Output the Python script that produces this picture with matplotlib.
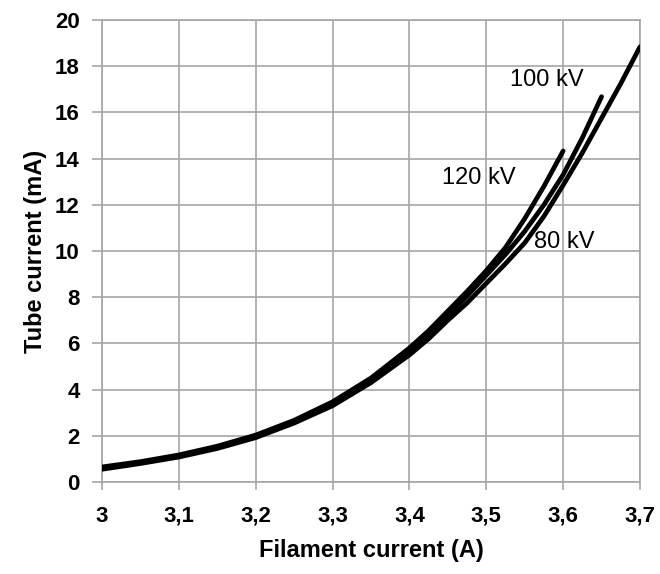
import matplotlib
matplotlib.use("Agg")
import matplotlib.pyplot as plt

plt.rcParams['font.family'] = ['Liberation Sans', 'DejaVu Sans']

# Filament current (A) and tube current (mA)
x_80 = [3.0, 3.05, 3.1, 3.15, 3.2, 3.25, 3.3, 3.35, 3.4, 3.425, 3.45, 3.475, 3.5,
        3.525, 3.55, 3.575, 3.6, 3.625, 3.65, 3.675, 3.7]
y_80 = [0.55, 0.8, 1.08, 1.45, 1.92, 2.55, 3.3, 4.3, 5.5, 6.2, 7.0, 7.75, 8.6,
        9.45, 10.35, 11.5, 12.85, 14.25, 15.75, 17.25, 18.84]

x_100 = [3.0, 3.05, 3.1, 3.15, 3.2, 3.25, 3.3, 3.35, 3.4, 3.425, 3.45, 3.475, 3.5,
         3.525, 3.55, 3.575, 3.6, 3.625, 3.65]
y_100 = [0.6, 0.83, 1.12, 1.5, 1.97, 2.6, 3.38, 4.4, 5.65, 6.4, 7.2, 8.05, 8.95,
         9.85, 10.85, 12.0, 13.3, 14.9, 16.68]

x_120 = [3.0, 3.05, 3.1, 3.15, 3.2, 3.25, 3.3, 3.35, 3.4, 3.425, 3.45, 3.475, 3.5,
         3.525, 3.55, 3.575, 3.6]
y_120 = [0.65, 0.88, 1.17, 1.55, 2.03, 2.67, 3.47, 4.5, 5.8, 6.55, 7.4, 8.25, 9.15,
         10.15, 11.4, 12.8, 14.33]

x_ticks = [3.0, 3.1, 3.2, 3.3, 3.4, 3.5, 3.6, 3.7]
x_tick_labels = ["3", "3,1", "3,2", "3,3", "3,4", "3,5", "3,6", "3,7"]
y_ticks = [0, 2, 4, 6, 8, 10, 12, 14, 16, 18, 20]

labels = ["80 kV", "100 kV", "120 kV"]
label_pos = [(3.562, 10.4), (3.531, 17.4), (3.443, 13.15)]

grid_col = "#a6a6a6"

fig = plt.figure(figsize=(6.6, 5.74), dpi=100)
ax = fig.add_axes([0.1545, 0.1603, 0.8152, 0.8049])

for xs, ys in [(x_80, y_80), (x_100, y_100), (x_120, y_120)]:
    ax.plot(xs, ys, color="black", lw=3.4, solid_capstyle="round",
            solid_joinstyle="round", zorder=3)

for txt, (tx, ty) in zip(labels, label_pos):
    ax.text(tx, ty, txt, fontsize=17, color="black", ha="left", va="center", zorder=4)

ax.set_xlim(3.0, 3.7)
ax.set_ylim(0, 20)
ax.set_xticks(x_ticks)
ax.set_xticklabels(x_tick_labels)
ax.set_yticks(y_ticks)
ax.grid(True, color=grid_col, lw=1.2)
ax.set_axisbelow(True)
for s in ax.spines.values():
    s.set_color(grid_col)
    s.set_linewidth(1.2)
ax.tick_params(axis='x', direction='out', length=6, width=1.2, color=grid_col, pad=11, labelsize=16)
ax.tick_params(axis='y', direction='out', length=7, width=1.2, color=grid_col, pad=9, labelsize=16)
for lab in ax.get_xticklabels() + ax.get_yticklabels():
    lab.set_fontweight('bold')

ax.set_xlabel("Filament current (A)", fontsize=17, fontweight='bold', labelpad=9)
ax.set_ylabel("Tube current (mA)", fontsize=17, fontweight='bold', labelpad=6)

fig.savefig("out.png", dpi=100)
